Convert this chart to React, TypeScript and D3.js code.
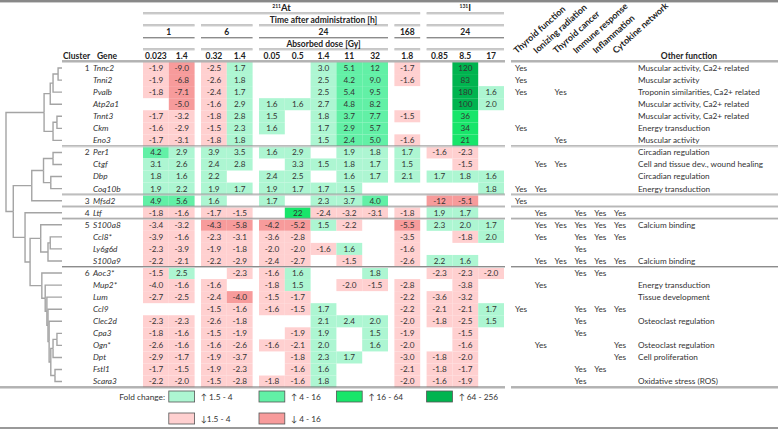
import React from "react";
import * as d3 from "d3";

// ---------- data ----------
const isotopeNames = ["At", "I"];
const isotopeMass = ["211", "131"];
const timeLabels = ["1", "6", "24", "168", "24"];
const groupIsotope = [0, 0, 0, 0, 1];
const doseLabels = ["0.023", "1.4", "0.32", "1.4", "0.05", "0.5", "1.4", "11", "32", "1.8", "0.85", "8.5", "17"];
const doseGroup = [0, 0, 1, 1, 2, 2, 2, 2, 2, 3, 4, 4, 4];

const genes = [
  "Tnnc2", "Tnni2", "Pvalb", "Atp2a1", "Tnnt3", "Ckm", "Eno3",
  "Per1", "Ctgf", "Dbp", "Coq10b",
  "Mfsd2",
  "Ltf",
  "S100a8", "Ccl8*", "Ly6g6d", "S100a9",
  "Aoc3*", "Mup2*", "Lum", "Ccl9", "Clec2d", "Cpa3", "Ogn*", "Dpt", "Fstl1", "Scara3",
];
const clusters = [1, 1, 1, 1, 1, 1, 1, 2, 2, 2, 2, 3, 4, 5, 5, 5, 5, 6, 6, 6, 6, 6, 6, 6, 6, 6, 6];

const _ = null;
const foldChange: (number | null)[][] = [
  [-1.9, -9.0, -2.5, 1.7, _, _, 3.0, 5.1, 12, -1.7, _, 120, _],
  [-1.9, -6.8, -2.6, 1.8, _, _, 2.5, 4.2, 9.0, -1.6, _, 83, _],
  [-1.8, -7.1, -2.4, 1.7, _, _, 2.5, 5.4, 9.5, _, _, 180, 1.6],
  [_, -5.0, -1.6, 2.9, 1.6, 1.6, 2.7, 4.8, 8.2, _, _, 100, 2.0],
  [-1.7, -3.2, -1.8, 2.8, 1.5, _, 1.8, 3.7, 7.7, -1.5, _, 36, _],
  [-1.6, -2.9, -1.5, 2.3, 1.6, _, 1.7, 2.9, 5.7, _, _, 34, _],
  [-1.7, -3.1, -1.8, 1.8, _, _, 1.5, 2.4, 5.0, -1.6, _, 21, _],
  [4.2, 2.9, 3.9, 3.5, 1.6, 2.9, _, 1.9, 1.8, 1.7, -1.6, -2.3, _],
  [3.1, 2.6, 2.4, 2.8, _, 3.3, 1.5, 1.8, 1.7, 1.5, _, -1.5, _],
  [1.8, 1.6, 2.2, _, 2.4, 2.5, _, 1.6, 1.7, 2.1, 1.7, 1.8, 1.6],
  [1.9, 2.2, 1.9, 1.7, 1.9, 1.7, 1.7, 1.5, _, _, _, _, 1.8],
  [4.9, 5.6, 1.6, _, 1.7, _, 2.3, 3.7, 4.0, _, -12, -5.1, _],
  [-1.8, -1.6, -1.7, -1.5, _, 22, -2.4, -3.2, -3.1, -1.8, 1.9, 1.7, _],
  [-3.4, -3.2, -4.3, -5.8, -4.2, -5.2, 1.5, -2.2, _, -5.5, 2.3, 2.0, 1.7],
  [-3.9, -1.6, -2.3, -3.1, -3.6, -2.8, _, _, _, -3.5, _, -1.8, 2.0],
  [-2.3, -3.9, -1.9, -1.8, -2.0, -2.0, -1.6, 1.6, _, -1.6, _, _, _],
  [-2.2, -2.1, -2.2, -2.9, -2.4, -2.7, _, -1.5, _, -2.6, 2.2, 1.6, _],
  [-1.5, 2.5, _, -2.3, -1.6, 1.6, _, _, 1.8, _, -2.3, -2.3, -2.0],
  [-4.0, -1.6, -1.6, _, -1.8, 1.5, _, -2.0, -1.5, -2.8, _, -3.8, _],
  [-2.7, -2.5, -2.4, -4.0, -1.5, -1.7, _, _, _, -2.2, -3.6, -3.2, _],
  [_, _, -1.5, -1.6, -1.6, -1.5, 1.7, _, _, -2.2, -2.1, -2.1, 1.7],
  [-2.3, -2.3, -2.6, -1.8, _, _, 2.1, 2.4, 2.0, -2.0, -1.8, -2.5, 1.5],
  [-1.8, -1.6, -1.5, -1.9, _, -1.9, 1.9, _, 1.5, -1.9, _, -1.5, _],
  [-2.6, -1.6, -1.6, -2.6, -1.6, -2.1, 2.0, _, 1.6, -2.0, _, -1.6, _],
  [-2.9, -1.7, -1.9, -3.7, _, -1.8, 2.3, 1.7, _, -3.0, -1.8, -2.0, _],
  [-1.7, -1.5, -1.9, -2.3, _, -1.6, 1.6, _, _, -2.1, -1.8, -1.7, _],
  [-2.2, -2.0, -1.5, -2.8, -1.8, -1.6, 1.8, _, _, -2.0, -1.6, -1.9, _],
];

// fold-change classes shown in the figure that differ from the plain value rule
const levelOverrides: [string, number, string][] = [
  ["Tnnt3", 7, "up2"],
  ["Ckm", 7, "up2"],
  ["Eno3", 7, "up2"],
  ["Mup2*", 0, "down1"],
];

const annotationColumns = ["Thyroid function", "Ionizing radiation", "Thyroid cancer", "Immune response", "Inflammation", "Cytokine network"];
const annotations: number[][] = [
  [0], [0], [0, 2], [], [], [0], [2],
  [], [1, 2], [], [0, 1],
  [0],
  [1, 3, 4, 5],
  [1, 2, 3, 4, 5], [1, 3, 4, 5], [3], [1, 2, 3, 4, 5],
  [3, 4], [1], [], [0, 3, 4, 5], [3], [3], [1, 5], [5], [3, 4], [3],
];
const otherFunction = [
  "Muscular activity, Ca2+ related", "Muscular activity", "Troponin similarities, Ca2+ related",
  "Muscular activity, Ca2+ related", "Muscular activity, Ca2+ related", "Energy transduction", "Muscular activity",
  "Circadian regulation", "Cell and tissue dev., wound healing", "Circadian regulation", "Energy transduction",
  "", "", "Calcium binding", "", "", "Calcium binding",
  "", "Energy transduction", "Tissue development", "", "Osteoclast regulation", "",
  "Osteoclast regulation", "Cell proliferation", "", "Oxidative stress (ROS)",
];

// dendrogram: [height, childA, childB], leaves are gene names
const dendrogram: any = [1.0,
  [0.32,
    [0.21, [0.16, [0.07, "Tnnc2", "Tnni2"], "Pvalb"], "Atp2a1"],
    [0.16, [0.09, "Tnnt3", "Ckm"], "Eno3"]],
  [0.87,
    [0.54, [0.33, [0.16, "Per1", "Ctgf"], [0.2, "Dbp", "Coq10b"]], "Mfsd2"],
    [0.66, "Ltf",
      [0.57,
        [0.38, "S100a8", [0.25, [0.21, "Ccl8*", "Ly6g6d"], "S100a9"]],
        [0.36, "Aoc3*", [0.3, "Mup2*", [0.27, "Lum", [0.25, "Ccl9", [0.23, "Clec2d",
          [0.2, [0.16, [0.09, "Cpa3", "Ogn*"], "Dpt"], [0.125, "Fstl1", "Scara3"]]]]]]]]]]];

const legendUp = ["↑ 1.5 - 4", "↑ 4 - 16", "↑ 16 - 64", "↑ 64 - 256"];
const legendDown = ["↓1.5 - 4", "↓ 4 - 16"];
const legendUpLevels = ["up1", "up2", "up3", "up4"];
const legendDownLevels = ["down1", "down2"];

// ---------- styles ----------
const FONT = "Lato, 'Open Sans', sans-serif";
const levelColor: Record<string, string> = {
  up1: "#adf6d2",
  up2: "#62f0a6",
  up3: "#18e56a",
  up4: "#00b44f",
  down1: "#ffd0d0",
  down2: "#f79b9b",
};

function levelOf(v: number | null): string | null {
  if (v == null) return null;
  if (v >= 64) return "up4";
  if (v >= 16) return "up3";
  if (v >= 4) return "up2";
  if (v > 0) return "up1";
  if (v <= -4) return "down2";
  return "down1";
}
const fmt = (v: number) => (Math.abs(v) >= 10 ? d3.format("d")(v) : d3.format(".1f")(v)).replace("−", "-");

export default function App() {
  const W = 778, H = 430;
  const cw = 25.8, gap = 6.4, x0 = 143;
  const colX = (i: number) => x0 + i * cw + doseGroup[i] * gap;
  const nGroups = timeLabels.length;
  const groupRange = d3.range(nGroups).map((g) => {
    const cols = doseGroup.map((dg, i) => (dg === g ? i : -1)).filter((i) => i >= 0);
    return [colX(cols[0]), colX(cols[cols.length - 1]) + cw];
  });
  const isoRange = isotopeNames.map((_, k) => {
    const gs = groupIsotope.map((gi, g) => (gi === k ? g : -1)).filter((g) => g >= 0);
    return [groupRange[gs[0]][0], groupRange[gs[gs.length - 1]][1]];
  });

  const y = d3.scaleBand<string>().domain(genes).range([62, 387.6]).paddingInner(0);
  const bw = y.bandwidth();
  const yc = (g: string) => (y(g) as number) + bw / 2;

  const overrideMap = new Map(levelOverrides.map(([g, c, l]) => [g + "|" + c, l]));

  // dendrogram
  const xd = d3.scaleLinear().domain([0, 1]).range([62, 6]);
  const root = d3.hierarchy<any>(dendrogram, (d) => (Array.isArray(d) ? d.slice(1) : null));
  const hOf = (d: any) => (Array.isArray(d) ? d[0] : 0);
  const ny = new Map<any, number>();
  root.eachAfter((n) => {
    if (!n.children) ny.set(n, yc(n.data));
    else ny.set(n, (ny.get(n.children[0])! + ny.get(n.children[n.children.length - 1])!) / 2);
  });
  const links = root.links();

  const annX = (j: number) => 515 + j * 19.8;

  const sepRows = genes.map((_, i) => i).filter((i) => i < genes.length - 1 && clusters[i] !== clusters[i + 1]);

  const DoubleLine = ({ x1, x2, yy, dark = false }: { x1: number; x2: number; yy: number; dark?: boolean }) => (
    <g>
      <line x1={x1} x2={x2} y1={yy} y2={yy} stroke={dark ? "#6a6a6a" : "#8c8c8c"} strokeWidth={1} />
      <line x1={x1} x2={x2} y1={yy + 1} y2={yy + 1} stroke={dark ? "#b0b0b0" : "#cfcfcf"} strokeWidth={1} />
    </g>
  );

  const headerLineYs = [25, 37.5, 49];

  return (
    <svg width={W} height={H} style={{ position: "absolute", left: 0, top: 0, background: "#fff" }} fontFamily={FONT}>
      <rect width={W} height={H} fill="#fff" />
      {/* top rule */}
      <line x1={0} x2={W} y1={1} y2={1} stroke="#888" strokeWidth={2} />
      <line x1={0} x2={W} y1={2.5} y2={2.5} stroke="#ccc" strokeWidth={1} />

      {/* isotope headers */}
      {isotopeNames.map((iso, k) => (
        <g key={iso}>
          <text x={(isoRange[k][0] + isoRange[k][1]) / 2} y={11} textAnchor="middle" fontWeight="bold" fill="#222">
            <tspan fontSize={5} dy={-3}>{isotopeMass[k]}</tspan>
            <tspan fontSize={9.5} dy={3}>{iso}</tspan>
          </text>
          <DoubleLine x1={isoRange[k][0]} x2={isoRange[k][1]} yy={13} />
        </g>
      ))}

      {/* group headers */}
      {timeLabels.map((t, g) => (
        <g key={"g" + g}>
          {headerLineYs.map((ly) => (
            <DoubleLine key={ly} x1={groupRange[g][0]} x2={groupRange[g][1]} yy={ly} />
          ))}
          <text x={(groupRange[g][0] + groupRange[g][1]) / 2} y={35} textAnchor="middle" fontWeight="bold" fontSize={8.5} fill="#222">{t}</text>
        </g>
      ))}
      <text x={(groupRange[2][0] + groupRange[2][1]) / 2} y={23} textAnchor="middle" fontWeight="bold" fontSize={8.5} fill="#222">Time after administration [h]</text>
      <text x={(groupRange[2][0] + groupRange[2][1]) / 2} y={46.5} textAnchor="middle" fontWeight="bold" fontSize={8.5} fill="#222">Absorbed dose [Gy]</text>
      {doseLabels.map((d, i) => (
        <text key={"d" + i} x={colX(i) + cw / 2} y={58.5} textAnchor="middle" fontWeight="bold" fontSize={8.5} fill="#222">{d}</text>
      ))}
      <text x={63} y={58.5} fontWeight="bold" fontSize={8.5} fill="#222">Cluster</text>
      <text x={97} y={58.5} fontWeight="bold" fontSize={8.5} fill="#222">Gene</text>

      {/* annotation headers */}
      {annotationColumns.map((a, j) => (
        <text key={a} transform={`translate(${annX(j) + 2},54) rotate(-42)`} fontWeight="bold" fontSize={8.9} fill="#222">{a}</text>
      ))}
      <text x={689} y={58.5} textAnchor="middle" fontWeight="bold" fontSize={8.5} fill="#222">Other function</text>

      {/* cells */}
      {genes.map((g, r) =>
        foldChange[r].map((v, c) => {
          if (v == null) return null;
          const lv = overrideMap.get(g + "|" + c) ?? levelOf(v);
          return (
            <g key={g + c}>
              <rect x={colX(c)} y={y(g)} width={cw} height={bw} fill={levelColor[lv as string]} />
              <text x={colX(c) + cw / 2} y={yc(g) + 2.9} textAnchor="middle" fontSize={8.2} fill="#333">{fmt(v)}</text>
            </g>
          );
        })
      )}

      {/* gene labels */}
      {genes.map((g, r) => (
        <g key={"lab" + g}>
          {(r === 0 || clusters[r - 1] !== clusters[r]) && (
            <text x={89.5} y={yc(g) + 2.9} textAnchor="end" fontSize={8.3} fill="#333">{clusters[r]}</text>
          )}
          <text x={93} y={yc(g) + 2.9} fontStyle="italic" fontSize={8.3} fill="#333">{g}</text>
        </g>
      ))}

      {/* annotations */}
      {genes.map((g, r) => (
        <g key={"ann" + g}>
          {annotations[r].map((j) => (
            <text key={j} x={annX(j)} y={yc(g) + 2.9} fontSize={8.2} fill="#333">Yes</text>
          ))}
          {otherFunction[r] && <text x={638} y={yc(g) + 2.9} fontSize={8.2} fill="#333">{otherFunction[r]}</text>}
        </g>
      ))}

      {/* dendrogram */}
      <g fill="none" stroke="#a4a4a4" strokeWidth={1.4}>
        {links.map((l, i) => (
          <path key={i} d={`M${xd(hOf(l.source.data))},${ny.get(l.source)}V${ny.get(l.target)}H${xd(hOf(l.target.data))}`} />
        ))}
      </g>

      {/* horizontal rules */}
      <DoubleLine x1={62} x2={505} yy={61} dark />
      <DoubleLine x1={511} x2={W} yy={61} dark />
      {sepRows.map((i) => {
        const yy = (y(genes[i]) as number) + bw - 0.5;
        return (
          <g key={"sep" + i}>
            <DoubleLine x1={62} x2={505} yy={yy} />
            <DoubleLine x1={511} x2={W} yy={yy} />
          </g>
        );
      })}
      <DoubleLine x1={0} x2={505} yy={387} dark />
      <DoubleLine x1={511} x2={W} yy={387} dark />

      {/* legend */}
      <text x={165} y={400} textAnchor="end" fontSize={8.3} fill="#333">Fold change:</text>
      {legendUp.map((t, k) => {
        const lx = colX([1, 4, 7, 10][k]);
        return (
          <g key={t}>
            <rect x={lx} y={391} width={cw} height={11} fill={levelColor[legendUpLevels[k]]} stroke="#555" strokeWidth={0.8} />
            <text x={lx + cw + 6} y={400} fontSize={8.3} fill="#333">{t}</text>
          </g>
        );
      })}
      {legendDown.map((t, k) => {
        const lx = colX([1, 4][k]);
        return (
          <g key={t}>
            <rect x={lx} y={413} width={cw} height={11} fill={levelColor[legendDownLevels[k]]} stroke="#555" strokeWidth={0.8} />
            <text x={lx + cw + 6} y={422} fontSize={8.3} fill="#333">{t}</text>
          </g>
        );
      })}
      <line x1={0} x2={W} y1={428} y2={428} stroke="#777" strokeWidth={1.5} />
    </svg>
  );
}
